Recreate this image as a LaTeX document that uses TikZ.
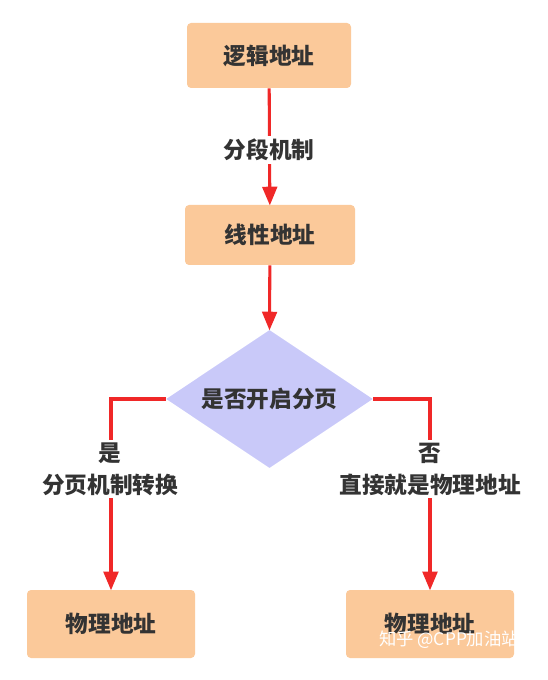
\documentclass[tikz,border=0pt]{standalone}
\usepackage{fontspec}
\setmainfont{Noto Sans CJK SC}
\usetikzlibrary{shapes.geometric,arrows.meta}
\definecolor{boxfill}{HTML}{FBC99A}
\definecolor{diafill}{HTML}{C9C9F9}
\definecolor{linkred}{HTML}{F02828}
\definecolor{txt}{HTML}{333333}
\tikzset{
  addrbox/.style={fill=boxfill, rounded corners=3pt, inner sep=0pt, text=txt, font=\fontsize{17}{20}\selectfont\bfseries},
  choice/.style={diamond, fill=diafill, inner sep=0pt, aspect=1.5, minimum width=155pt, minimum height=103.5pt, text=txt, font=\fontsize{17}{20}\selectfont\bfseries},
  linklabel/.style={fill=white, inner sep=2pt, align=center, text=txt, font=\fontsize{17}{24}\selectfont\bfseries},
  link/.style={draw=linkred, line width=2.3pt},
  linkarrow/.style={link, -{Triangle[length=14pt, width=11pt]}, shorten >=-0.5pt}
}
\begin{document}
\begin{tikzpicture}[x=0.75pt, y=-0.75pt]
\useasboundingbox (0,0) rectangle (548,680);
% address boxes
\node[addrbox, minimum width=123pt, minimum height=48.75pt] (logic) at (269,55.5) {逻辑地址};
\node[addrbox, minimum width=127.5pt, minimum height=45pt] (linear) at (270,235) {线性地址};
\node[choice] (paging) at (269.5,399) {是否开启分页};
\node[addrbox, minimum width=126pt, minimum height=51pt] (physA) at (111,624) {物理地址};
\node[addrbox, minimum width=126pt, minimum height=51pt] (physB) at (430,624) {物理地址};
% connectors
\draw[linkarrow] (logic) -- (linear);
\node[linklabel] (seg) at (269,150) {分段机制};
\draw[linkarrow] (linear) -- (paging.north);
\draw[linkarrow] (paging.west) -| (physA.north);
\node[linklabel] (yes) at (110,469) {是\\分页机制转换};
\draw[linkarrow] (paging.east) -| (physB.north);
\node[linklabel] (no) at (430,469) {否\\直接就是物理地址};
% watermark
\node[text=white, font=\fontsize{13}{15}\selectfont] (mark) at (449,640) {知乎 @CPP加油站};
\end{tikzpicture}
\end{document}
